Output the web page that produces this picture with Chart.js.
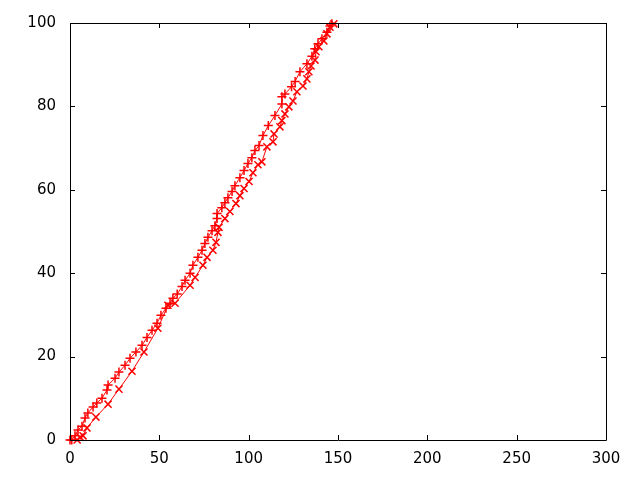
<!DOCTYPE html>
<html>
<head>
<meta charset="utf-8">
<script src="https://cdn.jsdelivr.net/npm/chart.js@4/dist/chart.umd.min.js"></script>
<style>
  html, body { margin: 0; padding: 0; background: #fff; }
  #wrap { width: 640px; height: 480px; }
</style>
</head>
<body>
<div id="wrap"><canvas id="chart" width="640" height="480"></canvas></div>
<script>
// upper curve, "+" marks
const upperX = [0, 1, 2.8, 4.5, 6.7, 8.4, 10, 12.9, 15, 17.9, 20.7, 21.3, 25.2, 27.4, 30.8, 33.6, 36.9, 40.3, 43.1, 45.9, 48.7, 50.9, 53.7, 56, 57.6, 60, 62.7, 64.4, 67.2, 68.8, 71.6, 73.9, 75.5, 77.2, 79.5, 81.1, 82.3, 82.3, 85, 86.7, 88.4, 90.7, 92.3, 95.1, 97.4, 99.6, 101.8, 103.5, 105.8, 108, 111, 114.7, 118.6, 118.6, 120.3, 124, 126, 128.7, 132.6, 135.4, 137, 138.8, 141, 143.8, 145.5, 146.6];
const upperY = [0, 0, 1, 2.4, 3.3, 5.3, 6.5, 7.9, 8.9, 10, 12, 13.2, 14.8, 16.3, 17.9, 19.6, 21.1, 22.7, 24.6, 26.3, 28, 29.9, 31.6, 32.8, 34, 35, 36.8, 38.3, 40, 41.9, 43.8, 45.5, 47.1, 48.6, 50.2, 51.4, 53.1, 54.3, 55.7, 56.9, 58.1, 59.6, 61, 62.9, 64.6, 66.3, 67.7, 69.4, 70.6, 73, 75.4, 77.8, 80.6, 82.3, 83, 84.7, 86, 88.3, 90.2, 92, 93.8, 95, 96.2, 97.8, 99.3, 99.8];

// lower curve, "x" marks
const lowerX = [4, 5.6, 7.3, 9.5, 14.5, 21.3, 27.4, 34.7, 41.4, 49.2, 54.8, 58.8, 67.2, 70, 74.4, 76.7, 80, 81.7, 82.8, 83.4, 86.7, 89.5, 92.9, 95.1, 97.4, 100.2, 102.4, 105.2, 107.4, 110.2, 113.6, 114.2, 117.5, 118.6, 120.3, 122.5, 124.8, 127, 130.4, 132.6, 133.7, 134.9, 137.1, 137.7, 139.3, 142.1, 143.8, 145.5, 147.7];
const lowerY = [0, 0.7, 1, 2.9, 5.5, 8.6, 12.2, 16.5, 21.1, 26.8, 32.3, 32.8, 37.1, 39, 41.9, 43.8, 45.5, 47.4, 49.8, 51, 53.1, 54.8, 56.7, 58.6, 60.3, 62, 64.1, 66, 66.7, 70.3, 71.5, 73.4, 75.1, 76.6, 78.2, 79.9, 81.3, 83.5, 84.9, 86.6, 88.3, 89.7, 91.1, 93.1, 94.3, 95.7, 97.4, 99, 99.8];

const xTicks = [0, 50, 100, 150, 200, 250, 300];
const yTicks = [0, 20, 40, 60, 80, 100];

function pairs(xs, ys) {
  return xs.map((x, i) => ({ x: x, y: ys[i] }));
}

// gnuplot style frame with inward ticks on all four sides
const frame = {
  id: 'frame',
  afterDraw(chart) {
    const { ctx, chartArea: a, scales } = chart;
    const len = 5;
    ctx.save();
    ctx.strokeStyle = '#000';
    ctx.lineWidth = 1;
    ctx.beginPath();
    ctx.rect(Math.round(a.left) + 0.5, Math.round(a.top) + 0.5,
             Math.round(a.right - a.left), Math.round(a.bottom - a.top));
    xTicks.forEach(v => {
      const px = Math.round(scales.x.getPixelForValue(v)) + 0.5;
      ctx.moveTo(px, a.bottom); ctx.lineTo(px, a.bottom - len);
      ctx.moveTo(px, a.top); ctx.lineTo(px, a.top + len);
    });
    yTicks.forEach(v => {
      const py = Math.round(scales.y.getPixelForValue(v)) + 0.5;
      ctx.moveTo(a.left, py); ctx.lineTo(a.left + len, py);
      ctx.moveTo(a.right, py); ctx.lineTo(a.right - len, py);
    });
    ctx.stroke();
    ctx.restore();
  }
};

const tickFont = { family: 'DejaVu Sans', size: 15 };

new Chart(document.getElementById('chart'), {
  type: 'scatter',
  data: {
    datasets: [
      {
        data: pairs(upperX, upperY),
        showLine: true,
        borderColor: '#ff0000',
        borderWidth: 1,
        pointStyle: 'cross',
        pointRadius: 4.5,
        pointBorderColor: '#ff0000',
        pointBorderWidth: 1.5,
        clip: false
      },
      {
        data: pairs(lowerX, lowerY),
        showLine: true,
        borderColor: '#ff0000',
        borderWidth: 1,
        pointStyle: 'crossRot',
        pointRadius: 5,
        pointBorderColor: '#ff0000',
        pointBorderWidth: 1.5,
        clip: false
      }
    ]
  },
  options: {
    responsive: false,
    animation: false,
    layout: { padding: { top: 22, right: 34, left: 0, bottom: 0 } },
    plugins: { legend: { display: false }, tooltip: { enabled: false } },
    scales: {
      x: {
        type: 'linear',
        min: 0, max: 300,
        grid: { display: false, drawTicks: false },
        border: { display: false },
        afterBuildTicks: s => { s.ticks = xTicks.map(v => ({ value: v })); },
        afterFit: s => { s.height = 40; },
        ticks: { color: '#000', padding: 10, maxRotation: 0, font: tickFont }
      },
      y: {
        type: 'linear',
        min: 0, max: 100,
        grid: { display: false, drawTicks: false },
        border: { display: false },
        afterBuildTicks: s => { s.ticks = yTicks.map(v => ({ value: v })); },
        afterFit: s => { s.width = 70; },
        ticks: { color: '#000', padding: 14, font: tickFont }
      }
    }
  },
  plugins: [frame]
});
</script>
</body>
</html>
